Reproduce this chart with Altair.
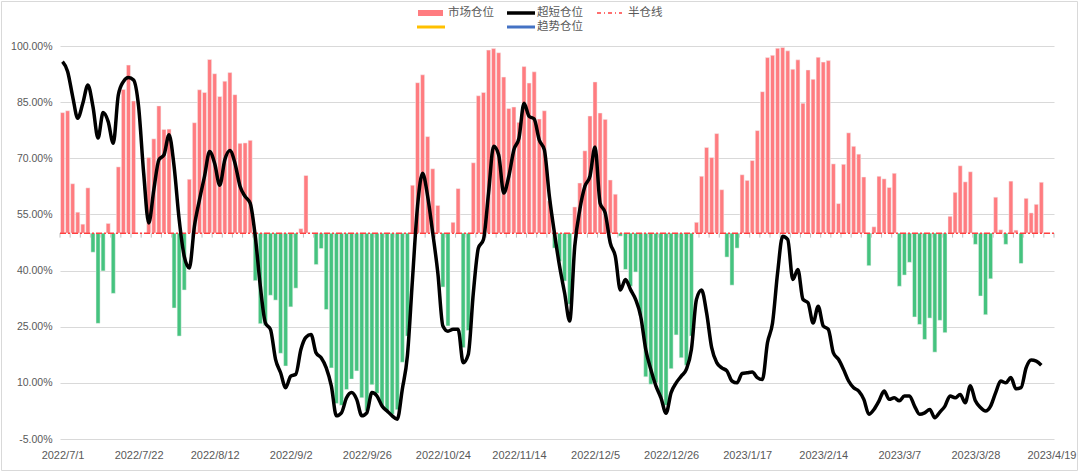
import altair as alt
import pandas as pd

# x-axis tick labels (every 15th trading day)
tick_labels = ["2022/7/1", "2022/7/22", "2022/8/12", "2022/9/2", "2022/9/26",
               "2022/10/24", "2022/11/14", "2022/12/5", "2022/12/26", "2023/1/17",
               "2023/2/14", "2023/3/7", "2023/3/28", "2023/4/19"]

# 市场仓位 (%), one value per trading day
market = [
    82.2, 82.7, 63.2, 55.6, 52.4, 62.1, 44.9, 25.9, 39.9, 52.6,
    33.9, 67.7, 88.4, 94.9, 85.3, 50.0, 50.0, 70.2, 75.2, 84.0,
    77.7, 77.8, 30.0, 22.5, 34.8, 64.4, 79.5, 88.3, 87.6, 96.4,
    92.6, 86.5, 90.6, 92.9, 87.0, 74.0, 74.1, 74.8, 37.3, 25.8,
    25.3, 33.4, 32.1, 17.9, 14.5, 30.3, 35.3, 51.2, 65.4, 50.0,
    41.6, 45.9, 29.6, 14.0, 4.5, 4.0, 8.2, 11.0, 13.2, 6.0,
    2.5, 9.5, 7.2, 3.8, 2.4, 1.6, 2.8, 15.5, 22.5, 62.8,
    90.2, 92.3, 75.8, 67.2, 57.4, 35.6, 25.2, 52.9, 61.9, 19.4,
    24.0, 68.8, 86.7, 87.6, 98.9, 99.3, 98.2, 91.7, 83.3, 83.7,
    79.6, 94.5, 90.1, 93.1, 80.5, 82.7, 58.6, 46.0, 42.5, 37.2,
    31.0, 57.0, 63.4, 72.0, 81.3, 90.4, 82.1, 80.4, 64.2, 60.4,
    49.2, 40.3, 35.8, 39.6, 28.0, 11.6, 9.6, 10.0, 6.0, 4.0,
    13.8, 22.8, 16.7, 14.7, 22.5, 52.9, 65.2, 72.9, 70.2, 76.6,
    61.6, 43.6, 36.1, 46.0, 65.6, 64.1, 69.4, 77.4, 87.8, 96.9,
    97.5, 99.4, 99.6, 98.7, 93.8, 96.3, 84.7, 93.6, 91.1, 97.0,
    95.7, 96.1, 68.5, 57.9, 68.4, 76.8, 73.2, 71.1, 65.0, 41.3,
    51.7, 65.2, 64.5, 62.2, 66.0, 35.8, 38.8, 42.2, 27.6, 25.6,
    21.6, 27.3, 18.2, 26.7, 23.4, 54.5, 60.9, 68.0, 63.7, 66.4,
    47.0, 33.2, 28.2, 37.8, 59.6, 50.9, 47.0, 63.9, 50.8, 41.9,
    59.3, 55.4, 57.7, 63.6, 50.0, 50.0,
]

# 超短仓位 (%)
ultra = [
    95.8, 93.2, 86.5, 80.7, 84.7, 89.6, 83.8, 75.4, 82.2, 79.8,
    74.0, 86.9, 90.5, 91.6, 90.9, 83.8, 66.0, 52.7, 61.6, 69.6,
    70.9, 76.3, 67.8, 53.6, 43.8, 40.7, 51.8, 58.9, 65.2, 71.8,
    68.6, 62.8, 69.6, 72.1, 68.7, 62.5, 59.8, 58.0, 49.2, 35.8,
    26.0, 24.3, 16.3, 12.7, 8.7, 11.8, 12.3, 18.9, 22.2, 22.9,
    18.0, 16.7, 14.0, 9.2, 1.2, 2.0, 6.0, 7.4, 5.6, 1.2,
    2.0, 7.4, 6.5, 3.8, 2.5, 1.2, 0.3, 8.3, 17.2, 37.6,
    57.2, 66.0, 59.8, 50.0, 39.4, 25.2, 23.8, 24.3, 24.3, 15.4,
    17.6, 34.0, 46.0, 48.3, 60.7, 73.2, 70.9, 60.7, 65.2, 72.3,
    75.4, 84.7, 81.2, 80.5, 74.9, 72.3, 59.8, 50.0, 41.2, 34.0,
    26.5, 46.5, 56.3, 62.5, 65.2, 73.0, 58.0, 55.4, 47.4, 43.8,
    34.8, 37.6, 34.9, 32.3, 27.8, 18.9, 13.6, 9.2, 6.0, 1.9,
    7.4, 10.0, 11.8, 13.6, 18.9, 32.3, 34.8, 28.7, 19.4, 15.4,
    14.0, 13.2, 10.5, 10.0, 12.5, 12.7, 12.9, 11.4, 10.9, 20.7,
    26.0, 39.4, 49.2, 48.3, 37.6, 40.3, 32.3, 31.4, 26.0, 30.5,
    25.2, 24.3, 18.0, 16.3, 13.6, 10.5, 8.7, 7.8, 5.6, 1.6,
    2.9, 5.2, 7.8, 5.6, 6.0, 5.2, 6.5, 6.5, 3.8, 1.6,
    2.0, 2.9, 0.7, 2.2, 3.8, 6.5, 6.0, 6.9, 4.7, 9.2,
    5.2, 3.4, 2.5, 3.8, 7.4, 10.5, 10.0, 11.4, 8.4, 8.7,
    14.0, 16.1, 15.8, 14.7,
]

half_value = 50.0
y_ticks = [-5, 10, 25, 40, 55, 70, 85, 100]

n = len(market)
W, H = 994, 393

bars = pd.DataFrame({"i": list(range(n)), "v": market})
bars["x0"] = bars["i"] - 0.4
bars["x1"] = bars["i"] + 0.4
bars["base"] = half_value
bars["side"] = ["up" if v >= half_value else "down" for v in market]

line_df = pd.DataFrame({"i": list(range(len(ultra))), "v": ultra})
half_df = pd.DataFrame({"i": [-0.5, n - 0.5], "v": [half_value, half_value]})
tick_df = pd.DataFrame({"b": [k - 0.5 for k in range(0, n + 1, 2)]})
tick_df["y0"] = half_value
tick_df["y1"] = half_value - 1.2

label_arr = "[" + ",".join("'" + s + "'" for s in tick_labels) + "]"

xscale = alt.Scale(domain=[-0.5, n - 0.5], nice=False, zero=False)
yscale = alt.Scale(domain=[-5, 100], nice=False, zero=False)

xaxis = alt.Axis(values=list(range(0, n, 15)), labelExpr=label_arr + "[round(datum.value/15)]",
                 grid=False, ticks=False, domain=False, title=None, labelAngle=0,
                 labelColor="#595959", labelFontSize=11, labelFont="Liberation Sans",
                 labelPadding=10, labelFlush=False, labelOverlap=False)
yaxis = alt.Axis(values=y_ticks, title=None, grid=True, gridColor="#d9d9d9", gridWidth=1,
                 ticks=False, domain=False,
                 labelExpr="(datum.value < 0 ? '-' : '') + format(abs(datum.value), '.2f') + '%'",
                 labelColor="#595959", labelFontSize=10.5, labelFont="Liberation Sans",
                 labelPadding=8)

ticks = alt.Chart(tick_df).mark_rule(color="#bfbfbf", strokeWidth=1).encode(
    x=alt.X("b:Q", scale=xscale, axis=xaxis),
    y=alt.Y("y0:Q", scale=yscale, axis=yaxis),
    y2="y1:Q",
)

bar_layer = alt.Chart(bars).mark_rect(stroke="#f2f2f2", strokeWidth=0.5).encode(
    x=alt.X("x0:Q", scale=xscale, axis=xaxis),
    x2="x1:Q",
    y=alt.Y("v:Q", scale=yscale, axis=yaxis),
    y2="base:Q",
    color=alt.Color("side:N", scale=alt.Scale(domain=["up", "down"], range=["#FF7C80", "#45C37F"]),
                    legend=None),
)

half_layer = alt.Chart(half_df).mark_line(color="#FF4040", strokeWidth=1.5, strokeDash=[6, 2, 2, 2]).encode(
    x=alt.X("i:Q", scale=xscale, axis=xaxis),
    y=alt.Y("v:Q", scale=yscale, axis=yaxis),
)

ultra_layer = alt.Chart(line_df).mark_line(color="black", strokeWidth=3.5, interpolate="monotone").encode(
    x=alt.X("i:Q", scale=xscale, axis=xaxis),
    y=alt.Y("v:Q", scale=yscale, axis=yaxis),
)

one = alt.Data(values=[{"k": 1}])
lg_font = "Noto Sans CJK SC"
lg_color = "#595959"
r1, r2 = -33, -19


def lg_line(x0, x1, y, color, dash=None, width=3):
    kw = dict(color=color, strokeWidth=width)
    if dash:
        kw["strokeDash"] = dash
    return alt.Chart(one).mark_rule(**kw).encode(x=alt.value(x0), x2=alt.value(x1), y=alt.value(y))


def lg_text(x, y, t):
    return alt.Chart(one).mark_text(align="left", baseline="middle", font=lg_font, fontSize=11.5,
                                    color=lg_color).encode(x=alt.value(x), y=alt.value(y), text=alt.value(t))


legend_rect = alt.Chart(one).mark_rect(color="#FF7C80").encode(
    x=alt.value(358), x2=alt.value(383), y=alt.value(r1 - 3), y2=alt.value(r1 + 3))

legend_layers = [
    legend_rect, lg_text(388, r1, "市场仓位"),
    lg_line(447, 475, r1, "black", width=3.5), lg_text(477, r1, "超短仓位"),
    lg_line(537, 562, r1, "#FF4040", dash=[4, 3, 1, 3], width=1.5), lg_text(568, r1, "半仓线"),
    lg_line(357, 385, r2, "#FFC000", width=3),
    lg_line(447, 475, r2, "#4472C4", width=3), lg_text(477, r2, "趋势仓位"),
]

border = alt.Chart(one).mark_rect(fill=None, stroke="#d9d9d9", strokeWidth=1).encode(
    x=alt.value(-58.5), x2=alt.value(W + 23.5), y=alt.value(-44.5), y2=alt.value(H + 31.5))

chart = alt.layer(ticks, bar_layer, half_layer, ultra_layer, *legend_layers, border).properties(
    width=W, height=H,
    autosize=alt.AutoSizeParams(type="none"),
    padding={"left": 60, "top": 46, "right": 26, "bottom": 34},
    background="white",
).configure_view(stroke=None)

chart.save("out.html", embed_options={"renderer": "svg", "actions": False})
